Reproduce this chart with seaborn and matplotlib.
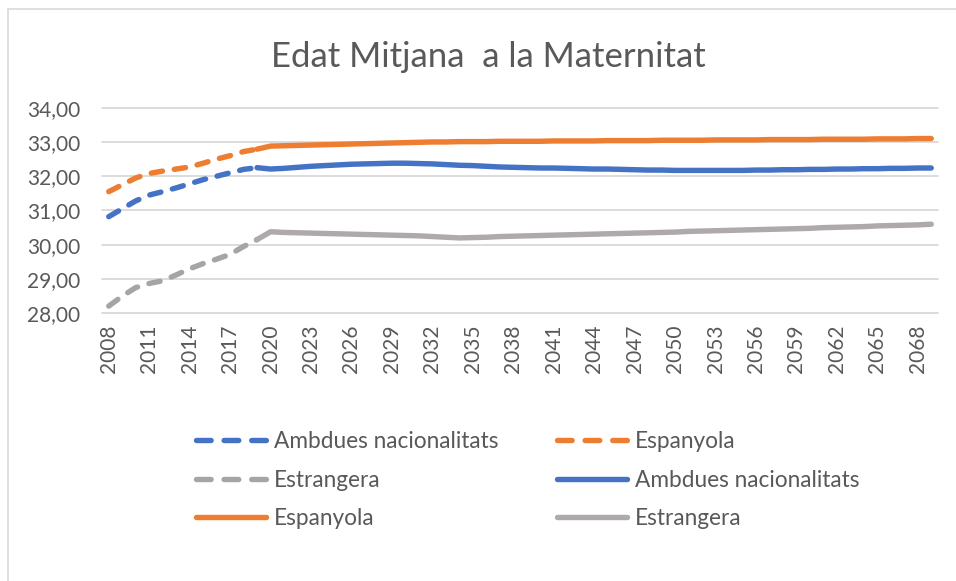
import matplotlib
matplotlib.use("Agg")
import matplotlib.pyplot as plt
import seaborn as sns
import pandas as pd
from matplotlib.lines import Line2D
from matplotlib.patches import Rectangle

# ---------------- data ----------------
years_hist = list(range(2008, 2020))
years_proj = list(range(2019, 2070))

ambdues_hist = [30.82, 31.05, 31.28, 31.45, 31.55, 31.66, 31.78, 31.90, 32.00, 32.10, 32.20, 32.25]
espanyola_hist = [31.55, 31.75, 31.95, 32.08, 32.15, 32.21, 32.27, 32.38, 32.50, 32.60, 32.72, 32.79]
estrangera_hist = [28.21, 28.50, 28.75, 28.87, 28.95, 29.12, 29.30, 29.45, 29.58, 29.72, 29.95, 30.15]

ambdues_proj = [32.25, 32.21, 32.23, 32.26, 32.29, 32.31, 32.33, 32.35, 32.36, 32.37,
                32.38, 32.38, 32.37, 32.36, 32.34, 32.32, 32.31, 32.29, 32.27, 32.26,
                32.25, 32.24, 32.24, 32.23, 32.22, 32.21, 32.21, 32.20, 32.19, 32.18,
                32.18, 32.17, 32.17, 32.17, 32.17, 32.17, 32.17, 32.18, 32.18, 32.19,
                32.19, 32.20, 32.20, 32.21, 32.21, 32.22, 32.22, 32.23, 32.23, 32.24,
                32.24]
espanyola_proj = [32.79, 32.88, 32.89, 32.90, 32.91, 32.92, 32.93, 32.94, 32.95, 32.96,
                  32.97, 32.98, 32.99, 33.00, 33.00, 33.01, 33.01, 33.01, 33.02, 33.02,
                  33.02, 33.02, 33.03, 33.03, 33.03, 33.03, 33.04, 33.04, 33.04, 33.04,
                  33.05, 33.05, 33.05, 33.05, 33.06, 33.06, 33.06, 33.06, 33.07, 33.07,
                  33.07, 33.07, 33.08, 33.08, 33.08, 33.08, 33.09, 33.09, 33.09, 33.10,
                  33.10]
estrangera_proj = [30.15, 30.38, 30.36, 30.35, 30.34, 30.33, 30.32, 30.31, 30.30, 30.29,
                   30.28, 30.27, 30.26, 30.24, 30.22, 30.20, 30.21, 30.22, 30.24, 30.25,
                   30.26, 30.27, 30.28, 30.29, 30.30, 30.31, 30.32, 30.33, 30.34, 30.35,
                   30.36, 30.37, 30.39, 30.40, 30.41, 30.42, 30.43, 30.44, 30.45, 30.46,
                   30.47, 30.48, 30.50, 30.51, 30.52, 30.53, 30.55, 30.56, 30.57, 30.58,
                   30.60]

xtick_years = list(range(2008, 2069, 3))
xtick_labels = [str(y) for y in xtick_years]
ytick_values = [28, 29, 30, 31, 32, 33, 34]
ytick_labels = ["28,00", "29,00", "30,00", "31,00", "32,00", "33,00", "34,00"]

title = "Edat Mitjana  a la Maternitat"
labels = ["Ambdues nacionalitats", "Espanyola", "Estrangera"]

# ---------------- style ----------------
sns.set_theme(style="white")
plt.rcParams['font.family'] = ['Lato', 'DejaVu Sans']

BLUE = "#4472C4"
ORANGE = "#ED7D31"
GRAY_D = "#A5A5A5"
GRAY_S = "#AEAAAA"
TXT = "#595959"
GRID = "#D9D9D9"
LW = 3.9
DASH = (0, (2.1, 2.2))
LEG_DASH = (0, (2.7, 2.4))

W, H = 956, 581
fig = plt.figure(figsize=(W / 100, H / 100), dpi=100)
fig.patch.set_facecolor("white")
ax = fig.add_axes([102 / W, 1 - 313.3 / H, (938 - 102) / W, (313.3 - 107.7) / H])

series = [
    (years_hist, ambdues_hist, BLUE, DASH),
    (years_hist, espanyola_hist, ORANGE, DASH),
    (years_hist, estrangera_hist, GRAY_D, DASH),
    (years_proj, ambdues_proj, BLUE, "-"),
    (years_proj, espanyola_proj, ORANGE, "-"),
    (years_proj, estrangera_proj, GRAY_S, "-"),
]
series_labels = labels + labels

for (xs, ys, col, ls), lab in zip(series, series_labels):
    df = pd.DataFrame({"Any": xs, "Edat": ys})
    sns.lineplot(data=df, x="Any", y="Edat", ax=ax, color=col, linewidth=LW,
                 linestyle=ls, legend=False, estimator=None,
                 solid_capstyle="round", dash_capstyle="round")
    ax.lines[-1].set_clip_on(False)

ax.set_xlim(2007.5, 2069.5)
ax.set_ylim(28, 34)
ax.set_yticks(ytick_values)
ax.set_yticklabels(ytick_labels)
ax.set_xticks(xtick_years)
ax.set_xticklabels(xtick_labels, rotation=90)
ax.set_xlabel("")
ax.set_ylabel("")
for s in ax.spines.values():
    s.set_visible(False)
ax.grid(axis="y", color=GRID, linewidth=1.3)
ax.grid(axis="x", visible=False)
ax.set_axisbelow(True)
for gl in ax.get_ygridlines():
    gl.set_clip_on(False)
ax.tick_params(axis="both", length=0, labelsize=15, colors=TXT)
ax.tick_params(axis="y", pad=15.5)
ax.tick_params(axis="x", pad=8)

# title
fig.text(488.5 / W, 1 - 57 / H, title, ha="center", va="center",
         fontsize=25, color=TXT)

# legend (row-major order in reference -> column-major for matplotlib)
order = [0, 2, 4, 1, 3, 5]
handles = []
for i in order:
    _, _, col, ls = series[i]
    h = Line2D([], [], color=col, linewidth=LW,
               linestyle=LEG_DASH if i < 3 else "-",
               solid_capstyle="round", dash_capstyle="round")
    handles.append(h)
leg_labels = [series_labels[i] for i in order]
fig.legend(handles, leg_labels, ncol=2, loc="upper left",
           bbox_to_anchor=(196 / W, 1 - 431 / H), frameon=False,
           fontsize=16.3, labelcolor=TXT, handlelength=3.08,
           handletextpad=0.35, columnspacing=2.62, labelspacing=0.78,
           borderpad=0, borderaxespad=0)

# chart border
fig.patches.append(Rectangle((7.5 / W, -0.05), 1.2, 1 - 9.3 / H + 0.05,
                             transform=fig.transFigure, fill=False,
                             edgecolor=GRID, linewidth=1.2))

fig.savefig("out.png", dpi=100)
